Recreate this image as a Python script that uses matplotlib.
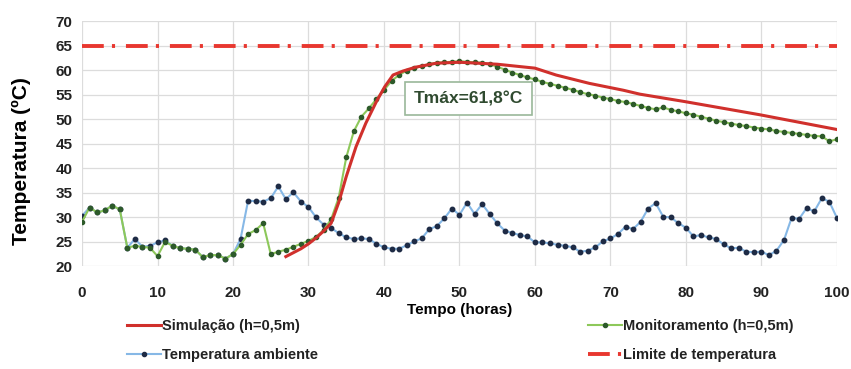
import matplotlib
matplotlib.use("Agg")
import matplotlib.pyplot as plt
from matplotlib.lines import Line2D

plt.rcParams['font.family'] = ['Liberation Sans', 'DejaVu Sans']

# hourly readings, 0..100 h
hours = list(range(101))

ambiente = [30.3, 32.0, 31.0, 31.4, 32.4, 31.6, 23.8, 25.6, 24.0, 24.2,
            24.9, 25.3, 24.2, 23.7, 23.6, 23.4, 21.9, 22.3, 22.3, 21.6,
            22.5, 25.6, 33.4, 33.3, 33.2, 33.9, 36.3, 33.7, 35.1, 33.2,
            32.1, 30.0, 28.5, 27.8, 26.8, 25.9, 25.6, 25.7, 25.6, 24.6,
            23.9, 23.6, 23.6, 24.3, 25.1, 25.7, 27.6, 28.2, 29.8, 31.8,
            30.5, 33.0, 30.7, 32.7, 30.7, 28.8, 27.3, 26.8, 26.4, 26.1,
            24.9, 24.9, 24.7, 24.4, 24.2, 23.9, 23.0, 23.2, 23.9, 25.1,
            25.7, 26.6, 28.1, 27.6, 29.1, 31.8, 32.9, 30.1, 30.0, 28.8,
            27.9, 26.1, 26.4, 25.9, 25.6, 24.5, 23.7, 23.8, 23.0, 22.9,
            23.0, 22.3, 23.2, 25.4, 29.9, 29.7, 31.9, 31.2, 33.9, 33.2,
            29.9]

monitoramento = [29.1, 32.0, 31.0, 31.4, 32.4, 31.6, 23.8, 24.2, 24.0, 23.8,
                 22.1, 25.0, 24.2, 23.7, 23.6, 23.4, 21.9, 22.3, 22.3, 21.6,
                 22.5, 24.4, 26.6, 27.4, 28.8, 22.5, 23.0, 23.4, 24.0, 24.6,
                 25.2, 26.0, 27.4, 29.6, 34.0, 42.2, 47.5, 50.5, 52.2, 54.1,
                 55.9, 57.8, 59.0, 59.9, 60.4, 60.8, 61.2, 61.5, 61.6, 61.7,
                 61.8, 61.7, 61.6, 61.5, 61.2, 60.7, 60.1, 59.5, 59.0, 58.5,
                 58.1, 57.6, 57.2, 56.8, 56.4, 56.0, 55.5, 55.1, 54.8, 54.4,
                 54.1, 53.7, 53.5, 53.1, 52.7, 52.3, 52.0, 52.4, 51.9, 51.6,
                 51.2, 50.9, 50.5, 50.1, 49.7, 49.4, 49.1, 48.8, 48.6, 48.3,
                 48.1, 47.9, 47.6, 47.4, 47.2, 47.0, 46.8, 46.6, 46.5, 45.5,
                 45.9]

sim_t = [27, 28, 29, 30, 31, 32, 33, 34, 35, 36.3, 37.6, 39, 40.1, 41.2,
         42.5, 44.2, 46.9, 50, 55, 60, 62.8, 67.2, 71.7, 73.9, 79.8, 89.8, 100]
sim_v = [22.0, 22.8, 23.6, 24.6, 25.8, 27.2, 28.8, 33.0, 38.3, 44.4, 49.2,
         53.6, 56.6, 59.0, 59.8, 60.6, 61.4, 61.6, 61.2, 60.4, 59.0, 57.3,
         55.9, 55.1, 53.6, 50.9, 47.9]

limite = 65
tmax_label = "Tmáx=61,8°C"

c_sim = '#d0302c'
c_mon = '#8dc85a'
c_mon_mk = '#2d5a2a'
c_amb = '#86b8e6'
c_amb_mk = '#1e2b45'
c_lim = '#e8372f'
lim_dash = (5.6, 2.1, 0.8, 2.8)

fig = plt.figure(figsize=(8.51, 3.69), dpi=100)
ax = fig.add_axes([0.0964, 0.278, 0.887, 0.665])

ax.plot(hours, ambiente, color=c_amb, lw=1.5, marker='o', ms=3.2,
        mfc=c_amb_mk, mec=c_amb_mk, zorder=3)
ax.plot(hours, monitoramento, color=c_mon, lw=1.5, marker='o', ms=3.0,
        mfc=c_mon_mk, mec=c_mon_mk, zorder=4)
ax.plot(sim_t, sim_v, color=c_sim, lw=2.2, zorder=5)
ax.axhline(limite, color=c_lim, lw=2.8, dashes=lim_dash, zorder=2)

ax.set_xlim(0, 100)
ax.set_ylim(20, 70)
ax.set_xticks(range(0, 101, 10))
ax.set_yticks(range(20, 71, 5))
ax.grid(True, color='#dcdcdc', lw=0.9)
ax.set_axisbelow(True)
for s in ax.spines.values():
    s.set_visible(False)
ax.tick_params(axis='y', length=0, labelsize=11, pad=7)
ax.tick_params(axis='x', length=0, labelsize=11, pad=14)
for lab in ax.get_xticklabels() + ax.get_yticklabels():
    lab.set_fontweight('bold')
    lab.set_color('#222222')

ax.set_ylabel('Temperatura (ºC)', fontsize=15, fontweight='bold')
ax.yaxis.set_label_coords(-0.068, 0.43)
ax.set_xlabel('Tempo (horas)', fontsize=11, fontweight='bold', labelpad=2)

ax.text(51.2, 54.2, tmax_label, fontsize=12.5, fontweight='bold', color='#2f4a2f',
        ha='center', va='center', zorder=6,
        bbox=dict(boxstyle='square,pad=0.5', fc='white', ec='#9ab89a', lw=1.2))

h_sim = Line2D([], [], color=c_sim, lw=2.2)
h_amb = Line2D([], [], color=c_amb, lw=1.5, marker='o', ms=3, mfc=c_amb_mk, mec=c_amb_mk)
h_mon = Line2D([], [], color=c_mon, lw=1.5, marker='o', ms=3, mfc=c_mon_mk, mec=c_mon_mk)
h_lim = Line2D([], [], color=c_lim, lw=2.8, dashes=lim_dash)

leg_kw = dict(frameon=False, handlelength=2.3, handletextpad=0.1,
              labelspacing=1.05, borderaxespad=0, borderpad=0,
              prop=dict(weight='bold', size=10.5))
leg1 = fig.legend([h_sim, h_amb], ['Simulação (h=0,5m)', 'Temperatura ambiente'],
                  loc='upper left', bbox_to_anchor=(127 / 851, 1 - 319 / 369), **leg_kw)
leg2 = fig.legend([h_mon, h_lim], ['Monitoramento (h=0,5m)', 'Limite de temperatura'],
                  loc='upper left', bbox_to_anchor=(588 / 851, 1 - 319 / 369), **leg_kw)
for lg in (leg1, leg2):
    for t in lg.get_texts():
        t.set_color('#222222')

fig.savefig('out.png', dpi=100)
